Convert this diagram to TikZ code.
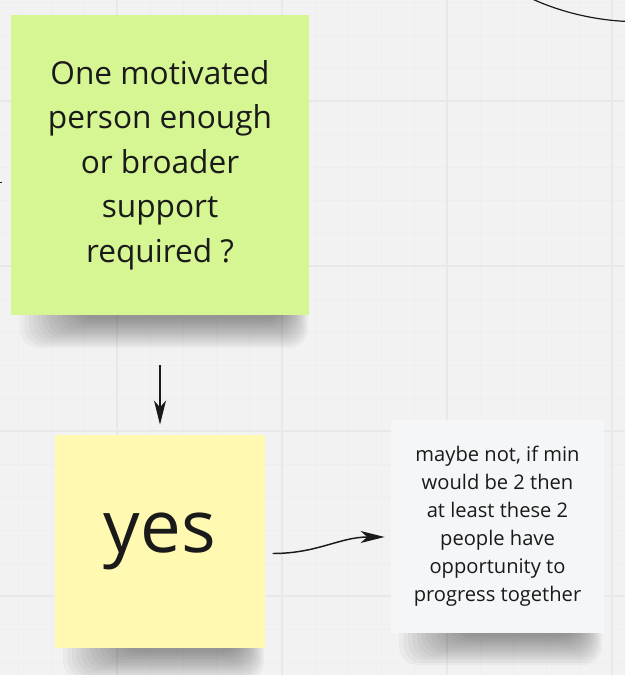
\documentclass[tikz,border=0pt]{standalone}
\usepackage{fontspec}
\setmainfont{Open Sans}
\usetikzlibrary{positioning}
\usetikzlibrary{arrows.meta}

\definecolor{board}{HTML}{F2F2F2}
\definecolor{gridminor}{HTML}{EEEEEE}
\definecolor{gridmajor}{HTML}{E8E8E8}
\definecolor{stickygreen}{HTML}{D5F692}
\definecolor{stickyyellow}{HTML}{FFF9B1}
\definecolor{stickywhite}{HTML}{F5F6F8}
\definecolor{ink}{HTML}{1A1A1A}

% soft shadow under a sticky: left, right, bottom
\newcommand{\castshadow}[3]{%
    \foreach \k in {0,...,13}
        \fill[black, opacity = 0.03, rounded corners = 14pt]
            ({#1+8+4.5*\k},{#3-20}) rectangle ({#2-2-1.8*\k},{#3+32-2.2*\k});
}

\begin{document}
\begin{tikzpicture}[x = 0.75pt, y = -0.75pt,
    sticky/.style = {draw = none, inner sep = 0pt, align = center, text = ink},
    link/.style = {-{Stealth[length = 18pt, width = 9pt, inset = 5pt]}, line width = 1.1pt, ink}]
    \useasboundingbox (0,0) rectangle (625,675);
    \fill[board] (0,0) rectangle (625,675);
    % board grid
    \foreach \gx in {18,51,...,625} \draw[gridminor, line width = 0.5pt] (\gx,0) -- (\gx,675);
    \foreach \gy in {2,35,...,675} \draw[gridminor, line width = 0.5pt] (0,\gy) -- (625,\gy);
    \foreach \gx in {117,282,447,612} \draw[gridmajor, line width = 0.8pt] (\gx,0) -- (\gx,675);
    \foreach \gy in {101,266,431,596} \draw[gridmajor, line width = 0.8pt] (0,\gy) -- (625,\gy);

    % shadows
    \castshadow{12}{310}{316}
    \castshadow{55}{266}{648}
    \castshadow{391}{604}{633}

    % stickies
    \node[sticky, fill = stickygreen, minimum width = 223.5pt, minimum height = 225pt,
        font = \fontsize{23.7pt}{33.3pt}\selectfont] at (160,165) (motivated)
        {One motivated\\person enough\\or broader\\support\\required ?};
    \node[sticky, fill = stickyyellow, minimum width = 158pt, minimum height = 160pt,
        font = \fontsize{54.5pt}{62pt}\selectfont] at (160,541.5) (yes) {yes};
    \node[sticky, fill = stickywhite, minimum width = 160pt, minimum height = 160pt,
        font = \fontsize{15.1pt}{21pt}\selectfont] at (497.5,526.5) (note)
        {maybe not, if min\\would be 2 then\\at least these 2\\people have\\opportunity to\\progress together};

    % connectors
    \draw[link, shorten <= 37.5pt, shorten >= 7.5pt] (motivated) -- (yes);
    \coordinate (yesout) at ([shift = {(7,12)}]yes.east);
    \coordinate (notein) at ([shift = {(-6,10.5)}]note.west);
    \draw[link] (yesout) .. controls +(45,0) and +(-45,0) .. (notein);

    % pieces of connectors running off the board
    \draw[ink, line width = 0.9pt] (528,-3) .. controls (555,10) and (590,20) .. (628,21.5);
    \draw[ink, line width = 0.6pt] (-1,182) -- (2,182);
\end{tikzpicture}
\end{document}
